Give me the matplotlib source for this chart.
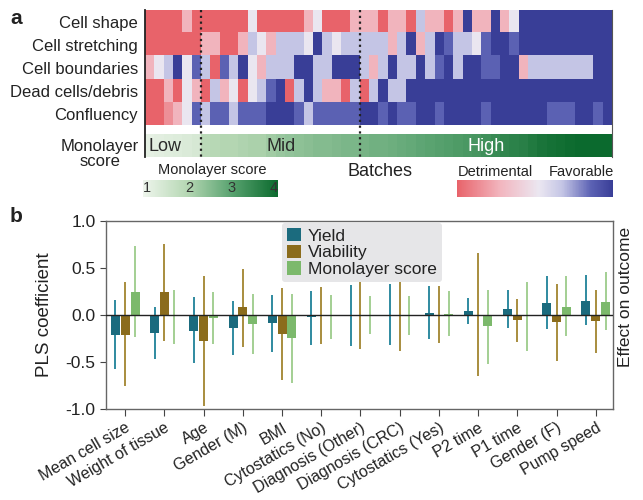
import numpy as np
import matplotlib
matplotlib.use("Agg")
import matplotlib.pyplot as plt
from matplotlib.colors import LinearSegmentedColormap, Normalize
from matplotlib.cm import ScalarMappable

plt.rcParams['font.family'] = ['Liberation Sans', 'DejaVu Sans']

# ---------------- Panel a data ----------------
row_labels = ["Cell shape", "Cell stretching", "Cell boundaries", "Dead cells/debris", "Confluency"]
# -1 = detrimental (red) ... +1 = favorable (blue)
R, P, W, L, M, B = -1.0, -0.45, 0.05, 0.35, 0.72, 1.0
cell_shape = [R, R, R, R, P, R, R, R, R, R, R, W, R, R, R, R, R, P, W, R,
              R, R, P, P, P, R, P, P, R, L, P, P, R, P, B, P, P, B, P, W,
              B, B, B, B, B, B, B, B, B, B]
cell_stretching = [R, R, R, R, R, R, P, P, R, R, P, L, W, P, L, L, L, W, B, L,
                   W, L, L, L, L, L, P, L, B, P, L, B, M, L, L, W, M, B, B, M,
                   B, B, B, B, B, B, B, B, B, B]
cell_boundaries = [P, W, L, B, W, M, L, R, M, L, B, W, P, L, L, L, B, B, L, L,
                   B, B, B, L, P, L, B, L, L, B, L, M, B, L, B, B, M, M, B, B,
                   P, L, L, L, L, L, L, L, B, B]
dead_cells = [R, R, P, R, W, P, R, L, P, W, R, W, L, M, B, R, L, B, L, P,
              P, R, L, R, L, B, L, L, B, B, B, B, B, B, B, B, B, B, B, B,
              B, B, B, B, B, B, B, B, B, B]
confluency = [R, R, -0.7, P, W, M, L, M, M, L, M, M, M, B, B, B, M, L, M, M,
              M, M, M, B, B, M, B, M, M, B, B, M, B, B, B, B, M, B, B, B,
              B, B, B, M, M, M, B, B, M, B]
monolayer_scores = [1.15, 1.2, 1.25, 1.3, 1.35, 1.4,
                    1.9, 1.95, 2.0, 2.0, 2.05, 2.1, 2.1, 2.2, 2.3, 2.35,
                    2.4, 2.45, 2.5, 2.5, 2.55, 2.6, 2.6, 2.65, 2.7, 2.7,
                    2.75, 2.8, 2.85, 2.9, 2.95, 3.0, 3.05, 3.1, 3.15, 3.2,
                    3.3, 3.4, 3.5, 3.55, 3.6, 3.7, 3.8, 3.85, 3.9, 3.95,
                    4.0, 4.0, 4.0, 4.0]
group_boundaries = [6, 23]
group_names = ["Low", "Mid", "High"]
group_label_x = [2.1, 14.6, 36.5]

# ---------------- Panel b data ----------------
categories = ["Mean cell size", "Weight of tissue", "Age", "Gender (M)", "BMI",
              "Cytostatics (No)", "Diagnosis (Other)", "Diagnosis (CRC)",
              "Cytostatics (Yes)", "P2 time", "P1 time", "Gender (F)", "Pump speed"]
yield_vals = [-0.21, -0.19, -0.17, -0.14, -0.08, -0.02, 0.0, 0.0, 0.02, 0.04, 0.06, 0.13, 0.15]
yield_lo = [-0.57, -0.47, -0.51, -0.43, -0.39, -0.32, -0.33, -0.32, -0.26, -0.10, -0.14, -0.15, -0.11]
yield_hi = [0.16, 0.09, 0.19, 0.15, 0.21, 0.26, 0.32, 0.33, 0.31, 0.18, 0.27, 0.42, 0.43]
viab_vals = [-0.21, 0.24, -0.28, 0.08, -0.20, 0.0, 0.0, 0.0, 0.0, 0.0, -0.05, -0.07, -0.06]
viab_lo = [-0.76, -0.28, -0.97, -0.34, -0.69, -0.31, -0.36, -0.38, -0.30, -0.65, -0.29, -0.49, -0.40]
viab_hi = [0.35, 0.76, 0.41, 0.49, 0.29, 0.30, 0.37, 0.36, 0.31, 0.66, 0.17, 0.33, 0.27]
mono_vals = [0.25, -0.01, -0.03, -0.10, -0.24, -0.01, 0.0, 0.0, 0.01, -0.12, 0.0, 0.09, 0.14]
mono_lo = [-0.23, -0.31, -0.31, -0.42, -0.72, -0.26, -0.20, -0.21, -0.22, -0.52, -0.38, -0.22, -0.16]
mono_hi = [0.73, 0.27, 0.25, 0.22, 0.22, 0.21, 0.20, 0.20, 0.26, 0.27, 0.35, 0.41, 0.46]
series_names = ["Yield", "Viability", "Monolayer score"]

# ---------------- styles ----------------
txt = "#222222"
heat_cmap = LinearSegmentedColormap.from_list(
    "detfav", [(0.0, "#e8636a"), (0.275, "#f2b5be"), (0.525, "#ebe7f1"),
               (0.675, "#c4c5e5"), (0.86, "#5c62b4"), (1.0, "#393e97")])
green_cmap = LinearSegmentedColormap.from_list(
    "mono", [(0.0, "#eef5ec"), (0.33, "#b5d7b3"), (0.66, "#58a26f"), (1.0, "#0b6a2e")])
bar_colors = ["#1b6b7e", "#8b6c1c", "#7cb96c"]
err_colors = ["#2f8aa0", "#a88d3e", "#a3cf93"]

W_PX, H_PX = 643, 500
fig = plt.figure(figsize=(6.43, 5.0), dpi=100)

def fx(px):
    return px / W_PX

def fy(py):
    return 1 - py / H_PX

# ---------------- Panel a ----------------
ax_h = fig.add_axes([fx(145), fy(157), fx(612 - 145), 147 / H_PX])
heat = np.array([cell_shape, cell_stretching, cell_boundaries, dead_cells, confluency])
ncol = heat.shape[1]
ax_h.imshow(heat, cmap=heat_cmap, vmin=-1, vmax=1, aspect="auto",
            interpolation="nearest", extent=(0, ncol, 5, 0))
ax_h.imshow(np.array([monolayer_scores]), cmap=green_cmap, vmin=1, vmax=4,
            aspect="auto", interpolation="nearest", extent=(0, ncol, 6.39, 5.43))
ax_h.set_xlim(0, ncol)
ax_h.set_ylim(6.39, 0)
for xb in group_boundaries:
    ax_h.plot([xb, xb], [0, 6.39], color="#222222", lw=1.6,
              linestyle=(0, (1, 1.6)), zorder=5)
for name, gx in zip(group_names, group_label_x):
    ax_h.text(gx, 5.93, name, ha="center", va="center", fontsize=13,
              color=("white" if name == "High" else "#2a2a2a"))
ax_h.set_yticks(np.arange(5) + 0.5)
ax_h.set_yticklabels(row_labels, fontsize=12, color=txt)
ax_h.tick_params(axis="y", length=0, pad=5)
ax_h.set_xticks([])
for s in ["top", "bottom"]:
    ax_h.spines[s].set_visible(False)
ax_h.spines["left"].set_color("#222222")
ax_h.spines["left"].set_linewidth(1.3)
ax_h.spines["right"].set_color("#555555")
ax_h.spines["right"].set_linewidth(0.8)

fig.text(fx(100), fy(154), "Monolayer\nscore", ha="center", va="center",
         fontsize=12, color=txt, linespacing=1.05)
fig.text(fx(10), fy(18), "a", fontsize=15, fontweight="bold", color=txt, va="center")

# monolayer score colorbar
cax1 = fig.add_axes([fx(143), fy(197), fx(135), 17 / H_PX])
cb1 = fig.colorbar(ScalarMappable(norm=Normalize(0.9, 4.1), cmap=green_cmap),
                   cax=cax1, orientation="horizontal")
cb1.set_ticks([])
cb1.outline.set_visible(False)
for v in [1, 2, 3, 4]:
    cax1.text(v, 0.5, str(v), ha="center", va="center", fontsize=10.5,
              color="#333333", transform=cax1.get_xaxis_transform())
fig.text(fx(212), fy(170), "Monolayer score", ha="center", va="center",
         fontsize=10.5, color=txt)
fig.text(fx(380), fy(172), "Batches", ha="center", va="center", fontsize=13, color=txt)

# detrimental / favorable colorbar
cax2 = fig.add_axes([fx(457), fy(197), fx(156), 17 / H_PX])
cb2 = fig.colorbar(ScalarMappable(norm=Normalize(-1, 1), cmap=heat_cmap),
                   cax=cax2, orientation="horizontal")
cb2.set_ticks([])
cb2.outline.set_visible(False)
fig.text(fx(495), fy(172), "Detrimental", ha="center", va="center", fontsize=10.5, color=txt)
fig.text(fx(581), fy(172), "Favorable", ha="center", va="center", fontsize=10.5, color=txt)

# ---------------- Panel b ----------------
ax = fig.add_axes([fx(106), fy(409), fx(507), 188 / H_PX])
x = np.arange(len(categories))
offsets = [-0.25, 0.0, 0.25]
vals = [yield_vals, viab_vals, mono_vals]
los = [yield_lo, viab_lo, mono_lo]
his = [yield_hi, viab_hi, mono_hi]
for i in range(3):
    xi = x + offsets[i]
    ax.vlines(xi, los[i], his[i], color=err_colors[i], lw=1.4, zorder=2)
    ax.bar(xi, vals[i], width=0.23, color=bar_colors[i], label=series_names[i], zorder=3)
ax.axhline(0, color="#222222", lw=1.0, zorder=4)
ax.set_xlim(-0.49, len(categories) - 1 + 0.44)
ax.set_ylim(-1, 1)
ax.set_yticks([-1.0, -0.5, 0.0, 0.5, 1.0])
ax.set_yticklabels(["-1.0", "-0.5", "0.0", "0.5", "1.0"])
ax.set_xticks(x)
ax.set_xticklabels(categories, rotation=30, ha="right", rotation_mode="anchor",
                   fontsize=11.5, color=txt)
ax.tick_params(axis="y", labelsize=12.5, labelcolor=txt, length=4, color="#444444")
ax.tick_params(axis="x", length=5, color="#444444", pad=3)
for s in ax.spines.values():
    s.set_color("#666666")
    s.set_linewidth(1.0)
ax.set_ylabel("PLS coefficient", fontsize=13.5, color=txt)
ax.yaxis.set_label_coords(-0.105, 0.5)
leg = ax.legend(loc="upper left", bbox_to_anchor=(fx(282), fy(223)),
                bbox_transform=fig.transFigure, fontsize=12.5, frameon=True,
                facecolor="#e6e6e8", edgecolor="none", framealpha=1,
                handlelength=0.8, handleheight=0.8, labelspacing=0.05,
                borderpad=0.3, handletextpad=0.4, borderaxespad=0)
for t in leg.get_texts():
    t.set_color(txt)
fig.text(fx(10), fy(217), "b", fontsize=15, fontweight="bold", color=txt, va="center")
fig.text(fx(625), fy(297), "Effect on outcome", rotation=90, ha="center",
         va="center", fontsize=12.5, color=txt)

fig.savefig("out.png", dpi=100)
